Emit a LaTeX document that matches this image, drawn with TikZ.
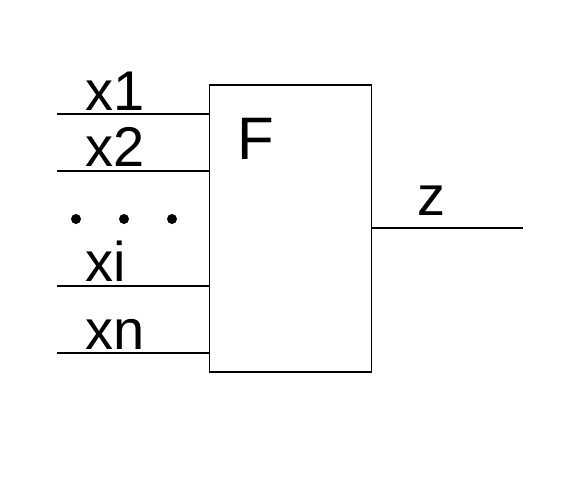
\documentclass[tikz,border=0pt]{standalone}
\usepackage{fontspec}
\setmainfont{Liberation Sans}
\begin{document}
\begin{tikzpicture}[x=1pt,y=-1pt]
		\tikzset{block/.style = {draw, line width=1.5pt, minimum width=162pt, minimum height=287pt, inner sep=0pt}}
		\tikzset{label/.style = {inner sep=0pt, anchor=base west, font=\fontsize{56}{56}\selectfont}}
		\tikzset{wire/.style = {line width=1.5pt}}
		
		\useasboundingbox (0,0) rectangle (571,477);
		
		\node[block] (F) at (290.5, 228.5) {};
		\node[label, font=\fontsize{60}{60}\selectfont] (Flab) at (237, 159) {F};
		
		\coordinate (in1) at (57, 114);
		\coordinate (in2) at (57, 171);
		\coordinate (ini) at (57, 286);
		\coordinate (inn) at (57, 353);
		\coordinate (out) at (523, 228);
		
		\node[label] (x1) at (85, 110.5) {x1};
		\node[label] (x2) at (85, 166.5) {x2};
		\node[label] (xi) at (85, 281.5) {xi};
		\node[label] (xn) at (85, 349.5) {xn};
		\node[label] (z)  at (417, 215.5) {z};
		
		\draw[wire] (in1) to (in1 -| F.west);
		\draw[wire] (in2) to (in2 -| F.west);
		\draw[wire] (ini) to (ini -| F.west);
		\draw[wire] (inn) to (inn -| F.west);
		\draw[wire] (out -| F.east) to (out);
		
		\foreach \x in {76,124,172}
			\fill (\x, 219) circle (5pt);
\end{tikzpicture}
\end{document}
